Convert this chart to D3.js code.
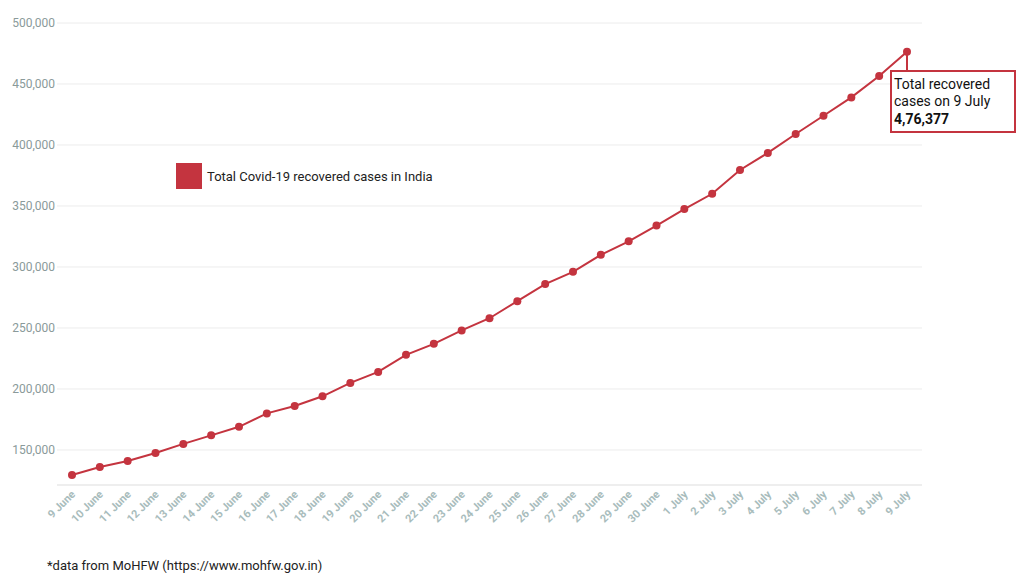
<!DOCTYPE html><html><head><meta charset="utf-8">
<script src="https://cdn.jsdelivr.net/npm/d3@7"></script>
<style>body{margin:0;background:#fff;font-family:Roboto,"Open Sans",sans-serif}</style></head><body>
<svg id="c" width="1024" height="576"></svg>
<script>
const dates=["9 June","10 June","11 June","12 June","13 June","14 June","15 June","16 June","17 June","18 June","19 June","20 June","21 June","22 June","23 June","24 June","25 June","26 June","27 June","28 June","29 June","30 June","1 July","2 July","3 July","4 July","5 July","6 July","7 July","8 July","9 July"];
const recovered=[129500,136000,141000,147500,155000,162000,169000,180000,186000,194000,205000,214000,228000,237000,248000,258000,272000,286000,296000,310000,321000,334000,347500,360000,379500,393500,409000,424000,439000,456500,476377];
const yTicks=[150000,200000,250000,300000,350000,400000,450000,500000];
const svg=d3.select("#c");
const x=d3.scalePoint().domain(dates).range([72,907]);
const y=d3.scaleLinear().domain([121300,500000]).range([485,23]);
const col="#c4343f";
svg.append("g").selectAll("line").data(yTicks).join("line")
 .attr("x1",57).attr("x2",922).attr("y1",d=>y(d)).attr("y2",d=>y(d)).attr("stroke","#ececec");
svg.append("line").attr("x1",57).attr("x2",922).attr("y1",485).attr("y2",485).attr("stroke","#ddd");
svg.append("g").selectAll("text").data(yTicks).join("text")
 .attr("x",55).attr("y",d=>y(d)+4).attr("text-anchor","end").attr("font-size",12).attr("fill","#8a9a9a")
 .text(d=>d3.format(",")(d));
svg.append("g").selectAll("text").data(dates).join("text")
 .attr("transform",d=>`translate(${x(d)+4},${495}) rotate(-45)`).attr("text-anchor","end")
 .attr("font-size",11).attr("font-weight","bold").attr("fill","#a8bcbc").text(d=>d);
svg.append("path").datum(recovered).attr("fill","none").attr("stroke",col).attr("stroke-width",2)
 .attr("d",d3.line().x((d,i)=>x(dates[i])).y(d=>y(d)));
svg.append("g").selectAll("circle").data(recovered).join("circle")
 .attr("cx",(d,i)=>x(dates[i])).attr("cy",d=>y(d)).attr("r",4).attr("fill",col);
svg.append("rect").attr("x",176).attr("y",163).attr("width",26).attr("height",26).attr("fill",col);
svg.append("text").attr("x",207).attr("y",181).attr("font-size",13).attr("fill","#222").text("Total Covid-19 recovered cases in India");
const lx=x(dates[30]),ly=y(recovered[30]);
svg.append("line").attr("x1",lx).attr("y1",ly).attr("x2",lx).attr("y2",71).attr("stroke",col).attr("stroke-width",2);
svg.append("rect").attr("x",891).attr("y",71).attr("width",124).attr("height",61).attr("fill","#fff").attr("stroke",col).attr("stroke-width",2);
const t=svg.append("text").attr("font-size",14).attr("fill","#111");
t.append("tspan").attr("x",894).attr("y",89).text("Total recovered");
t.append("tspan").attr("x",894).attr("y",106).text("cases on 9 July");
t.append("tspan").attr("x",894).attr("y",124).attr("font-weight","bold").text("4,76,377");
svg.append("text").attr("x",47).attr("y",570).attr("font-size",13).attr("fill","#222").text("*data from MoHFW (https://www.mohfw.gov.in)");
</script></body></html>
